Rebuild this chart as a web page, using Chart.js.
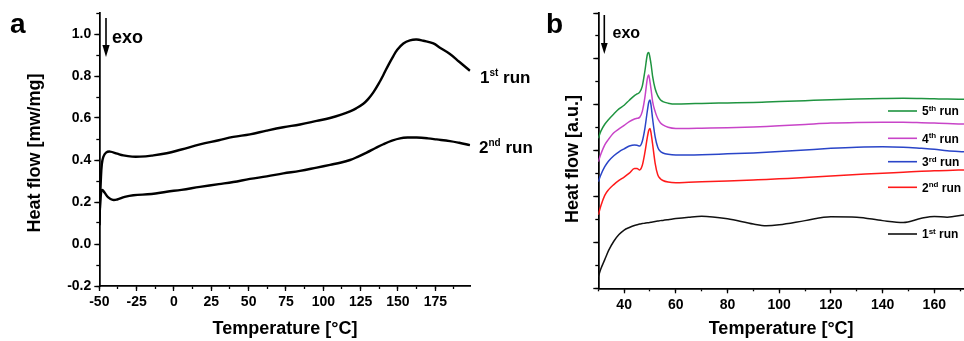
<!DOCTYPE html>
<html><head><meta charset="utf-8">
<script src="https://cdn.jsdelivr.net/npm/chart.js@4.4.1/dist/chart.umd.min.js"></script>
<style>
html,body{margin:0;padding:0;background:#fff;}
#wrap{position:relative;width:964px;height:341px;overflow:hidden;background:#fff;}
#pa{position:absolute;left:0;top:0;width:540px;height:341px;}
#pb{position:absolute;left:540px;top:0;width:424px;height:341px;}
</style></head><body>
<div id="wrap"><div id="pa"><canvas id="ca"></canvas></div><div id="pb"><canvas id="cb"></canvas></div></div>
<script>
const FONT = "'Liberation Sans', Arial, Helvetica, sans-serif";

// ---------- Panel a data ----------
const aTemp1 = [-50,-49.5,-49,-48.3,-47.3,-45.5,-42.8,-38,-33.9,-28,-22.7,-15,-4.9,5,17.4,30,39.7,50.9,62.1,73.2,84.4,95.6,104.5,112,117.9,122,126.8,130,133.5,138,140.2,144,146.9,149.2,153.6,158,162.5,167,173.7,178.1,184.8,191,198.2];
const aRun1  = [0.09,0.2,0.3,0.38,0.415,0.435,0.44,0.43,0.422,0.416,0.416,0.421,0.432,0.45,0.474,0.494,0.51,0.522,0.54,0.556,0.569,0.586,0.60,0.616,0.632,0.646,0.668,0.69,0.722,0.775,0.805,0.858,0.895,0.922,0.955,0.97,0.974,0.968,0.955,0.935,0.905,0.868,0.825];
const aTemp2 = [-50,-49.5,-48.8,-48,-46.5,-44,-41,-38,-33,-27.2,-15,-4.9,5,17.4,30,39.7,50.9,62.1,73.2,84.4,95.6,104.5,112,117.9,123,129,135,140.2,146,151.4,157,162.5,170,175.9,184.8,191,198.2];
const aRun2  = [0.09,0.18,0.245,0.257,0.245,0.222,0.21,0.212,0.224,0.232,0.238,0.249,0.258,0.272,0.285,0.295,0.31,0.322,0.336,0.348,0.364,0.377,0.388,0.40,0.415,0.435,0.457,0.475,0.492,0.503,0.507,0.507,0.503,0.498,0.49,0.482,0.471];
const aXTicks = [-50,-25,0,25,50,75,100,125,150,175];
const aXMinor = [-50,-37.5,-25,-12.5,0,12.5,25,37.5,50,62.5,75,87.5,100,112.5,125,137.5,150,162.5,175,187.5];
const aYTicks = [-0.2,0,0.2,0.4,0.6,0.8,1.0];
const aYMinor = [-0.2,-0.1,0,0.1,0.2,0.3,0.4,0.5,0.6,0.7,0.8,0.9,1.0,1.1];

// ---------- Panel b data ----------
const bTemp = [30,31,32.5,34,36,38,40,42,44,45,46,47,48,49,49.5,50,50.5,51,52,53,54,55,57,60,65,70,80,90,95,100,110,120,130,140,148,155,160,165,171.5];
const bRun1 = [0.5,0.85,1.25,1.65,2.05,2.34,2.54,2.65,2.74,2.77,2.8,2.82,2.84,2.86,2.86,2.87,2.88,2.89,2.91,2.93,2.95,2.96,2.99,3.04,3.1,3.14,3.03,2.8,2.73,2.77,2.95,3.12,3.1,2.95,2.87,3.05,3.13,3.1,3.2];
const bRun2 = [3.2,3.6,4.05,4.3,4.52,4.7,4.85,5.02,5.22,5.22,5.16,5.35,5.9,6.6,6.88,6.97,6.7,6.3,5.45,4.95,4.78,4.7,4.63,4.6,4.62,4.64,4.68,4.72,4.74,4.77,4.83,4.9,4.96,5.02,5.06,5.1,5.12,5.14,5.16];
const bRun3 = [4.65,4.95,5.3,5.55,5.78,5.95,6.08,6.2,6.25,6.24,6.2,6.4,6.95,7.75,8.1,8.21,7.9,7.4,6.6,6.15,5.97,5.9,5.84,5.81,5.81,5.82,5.86,5.9,5.93,5.96,6.03,6.1,6.15,6.17,6.15,6.1,6.06,6.0,5.95];
const bRun4 = [5.52,5.85,6.25,6.5,6.78,6.95,7.1,7.27,7.38,7.41,7.45,7.7,8.3,9.15,9.3,9.0,8.6,8.15,7.7,7.4,7.22,7.12,7.02,6.97,6.97,6.98,7.0,7.03,7.05,7.08,7.14,7.2,7.23,7.24,7.24,7.22,7.2,7.18,7.16];
const bRun5 = [6.54,6.85,7.15,7.36,7.6,7.82,7.98,8.2,8.4,8.47,8.55,8.8,9.45,10.2,10.28,10.05,9.7,9.25,8.7,8.4,8.22,8.14,8.07,8.03,8.04,8.06,8.08,8.1,8.12,8.14,8.18,8.22,8.25,8.27,8.28,8.27,8.26,8.25,8.24];
const bXTicks = [40,60,80,100,120,140,160];
const bXMinor = [30,40,50,60,70,80,90,100,110,120,130,140,150,160,170];
const bYTicks = [0,2,4,6,8,10,12];
const bYMinor = [0,1,2,3,4,5,6,7,8,9,10,11,12];

// ---------- labels ----------
const runNums = ['1','2','3','4','5'];
const runSuffix = ['st','nd','rd','th','th'];
const runWord = ' run';
const bColors = ['#111111','#ff1a1a','#2a45c8','#c844c8','#1f9440'];
const xTitle = 'Temperature [°C]';
const yTitleA = 'Heat flow [mw/mg]';
const yTitleB = 'Heat flow [a.u.]';

function series(label, xs, ys, color, width, smooth) {
  const ds = { label, data: xs.map((x, i) => ({ x, y: ys[i] })), borderColor: color, backgroundColor: color,
    borderWidth: width, pointRadius: 0, fill: false };
  if (smooth === 'monotone') ds.cubicInterpolationMode = 'monotone'; else ds.tension = 0.4;
  return ds;
}

function axis(pos, min, max, tickVals, tickLen, size, weight, labels, fmt, title) {
  const horiz = pos === 'bottom';
  return {
    type: 'linear', position: pos, min, max, weight,
    afterBuildTicks: s => { s.ticks = tickVals.map(v => ({ value: v })); },
    afterFit: s => { if (horiz) s.height = size; else s.width = size; },
    grid: { display: true, drawOnChartArea: false, drawTicks: true, tickLength: tickLen, tickColor: '#000', tickWidth: 1.3 },
    border: { display: true, color: '#000', width: 1.5 },
    ticks: { display: labels, color: '#000', autoSkip: false, maxRotation: 0, padding: 3,
      font: { family: FONT, size: 14, weight: 'bold' }, callback: fmt || (v => v) },
    title: title ? { display: true, text: title, color: '#000', font: { family: FONT, size: 18, weight: 'bold' }, padding: { top: 0, bottom: 0.7 } } : { display: false }
  };
}

function runLabel(ctx, x, base, i, big, small, rise) {
  ctx.font = `bold ${big}px ${FONT}`;
  ctx.fillText(runNums[i], x, base);
  x += ctx.measureText(runNums[i]).width;
  ctx.font = `bold ${small}px ${FONT}`;
  ctx.fillText(runSuffix[i], x, base - rise);
  x += ctx.measureText(runSuffix[i]).width;
  ctx.font = `bold ${big}px ${FONT}`;
  ctx.fillText(runWord, x, base);
}

function arrow(ctx, x, y0, y1, hw, hl) {
  ctx.lineWidth = 1.6;
  ctx.beginPath(); ctx.moveTo(x, y0); ctx.lineTo(x, y1 - hl + 1); ctx.stroke();
  ctx.beginPath(); ctx.moveTo(x - hw, y1 - hl); ctx.lineTo(x + hw, y1 - hl); ctx.lineTo(x, y1); ctx.closePath(); ctx.fill();
}

function yTitle(ctx, text, cx, cy) {
  ctx.save();
  ctx.translate(cx, cy); ctx.rotate(-Math.PI / 2);
  ctx.textAlign = 'center'; ctx.textBaseline = 'middle';
  ctx.font = `bold 18px ${FONT}`;
  ctx.fillText(text, 0, 0);
  ctx.restore();
}

const annotA = { id: 'annotA', afterDraw(chart) {
  const ctx = chart.ctx; ctx.save();
  ctx.fillStyle = '#000'; ctx.strokeStyle = '#000'; ctx.textAlign = 'left'; ctx.textBaseline = 'alphabetic';
  ctx.font = `bold 28px ${FONT}`; ctx.fillText('a', 10, 33);
  arrow(ctx, 106, 18, 57, 3.6, 12);
  ctx.font = `bold 18px ${FONT}`; ctx.fillText('exo', 112, 43);
  runLabel(ctx, 480, 83.3, 0, 17, 10, 7.3);
  runLabel(ctx, 479, 153.3, 1, 17, 10, 7.3);
  yTitle(ctx, yTitleA, 35, 153);
  ctx.restore();
} };

const legendY = [234, 187.3, 161.7, 138.3, 111];
const annotB = { id: 'annotB', afterDraw(chart) {
  const ctx = chart.ctx; ctx.save();
  ctx.fillStyle = '#000'; ctx.strokeStyle = '#000'; ctx.textAlign = 'left'; ctx.textBaseline = 'alphabetic';
  ctx.font = `bold 28px ${FONT}`; ctx.fillText('b', 6, 33);
  arrow(ctx, 64.3, 15, 54, 3.4, 11);
  ctx.font = `bold 16px ${FONT}`; ctx.fillText('exo', 72.5, 37.7);
  chart.data.datasets.forEach((ds, i) => {
    const y = legendY[i];
    ctx.strokeStyle = ds.borderColor; ctx.lineWidth = 1.6;
    ctx.beginPath(); ctx.moveTo(348, y); ctx.lineTo(377, y); ctx.stroke();
    ctx.fillStyle = '#000';
    runLabel(ctx, 382, y + 4.2, i, 12, 8, 4.3);
  });
  yTitle(ctx, yTitleB, 33.5, 159);
  ctx.restore();
} };

Chart.defaults.font.family = FONT;

new Chart(document.getElementById('ca'), {
  type: 'line',
  data: { datasets: [
    series('1st run', aTemp1, aRun1, '#000', 2.4),
    series('2nd run', aTemp2, aRun2, '#000', 2.4)
  ] },
  options: {
    responsive: true, maintainAspectRatio: false, animation: false, devicePixelRatio: 1,
    layout: { padding: { left: 0, top: 13, right: 69.3, bottom: 0 } },
    plugins: { legend: { display: false }, tooltip: { enabled: false } },
    scales: {
      xm: axis('bottom', -50, 198.7, aXMinor, 3, 0, 0, false),
      x: axis('bottom', -50, 198.7, aXTicks, 5, 55, 5, true, v => String(v), xTitle),
      ym: axis('left', -0.2, 1.1, aYMinor, 3, 0, 0, false),
      y: axis('left', -0.2, 1.1, aYTicks, 5, 99.3, 5, true, v => v.toFixed(1))
    }
  },
  plugins: [annotA]
});

new Chart(document.getElementById('cb'), {
  type: 'line',
  data: { datasets: [
    series('1st run', bTemp, bRun1, bColors[0], 1.5, 'monotone'),
    series('2nd run', bTemp, bRun2, bColors[1], 1.5, 'monotone'),
    series('3rd run', bTemp, bRun3, bColors[2], 1.5, 'monotone'),
    series('4th run', bTemp, bRun4, bColors[3], 1.5, 'monotone'),
    series('5th run', bTemp, bRun5, bColors[4], 1.5, 'monotone')
  ] },
  options: {
    responsive: true, maintainAspectRatio: false, animation: false, devicePixelRatio: 1,
    layout: { padding: { left: 0, top: 13, right: 0, bottom: 0 } },
    plugins: { legend: { display: false }, tooltip: { enabled: false } },
    scales: {
      xm: axis('bottom', 30, 171.5, bXMinor, 3, 0, 0, false),
      x: axis('bottom', 30, 171.5, bXTicks, 5, 52.7, 5, true, v => String(v), xTitle),
      ym: axis('left', 0, 12, bYMinor, 3, 0, 0, false),
      y: axis('left', 0, 12, bYTicks, 5, 58.3, 5, false)
    }
  },
  plugins: [annotB]
});
</script>
</body></html>
